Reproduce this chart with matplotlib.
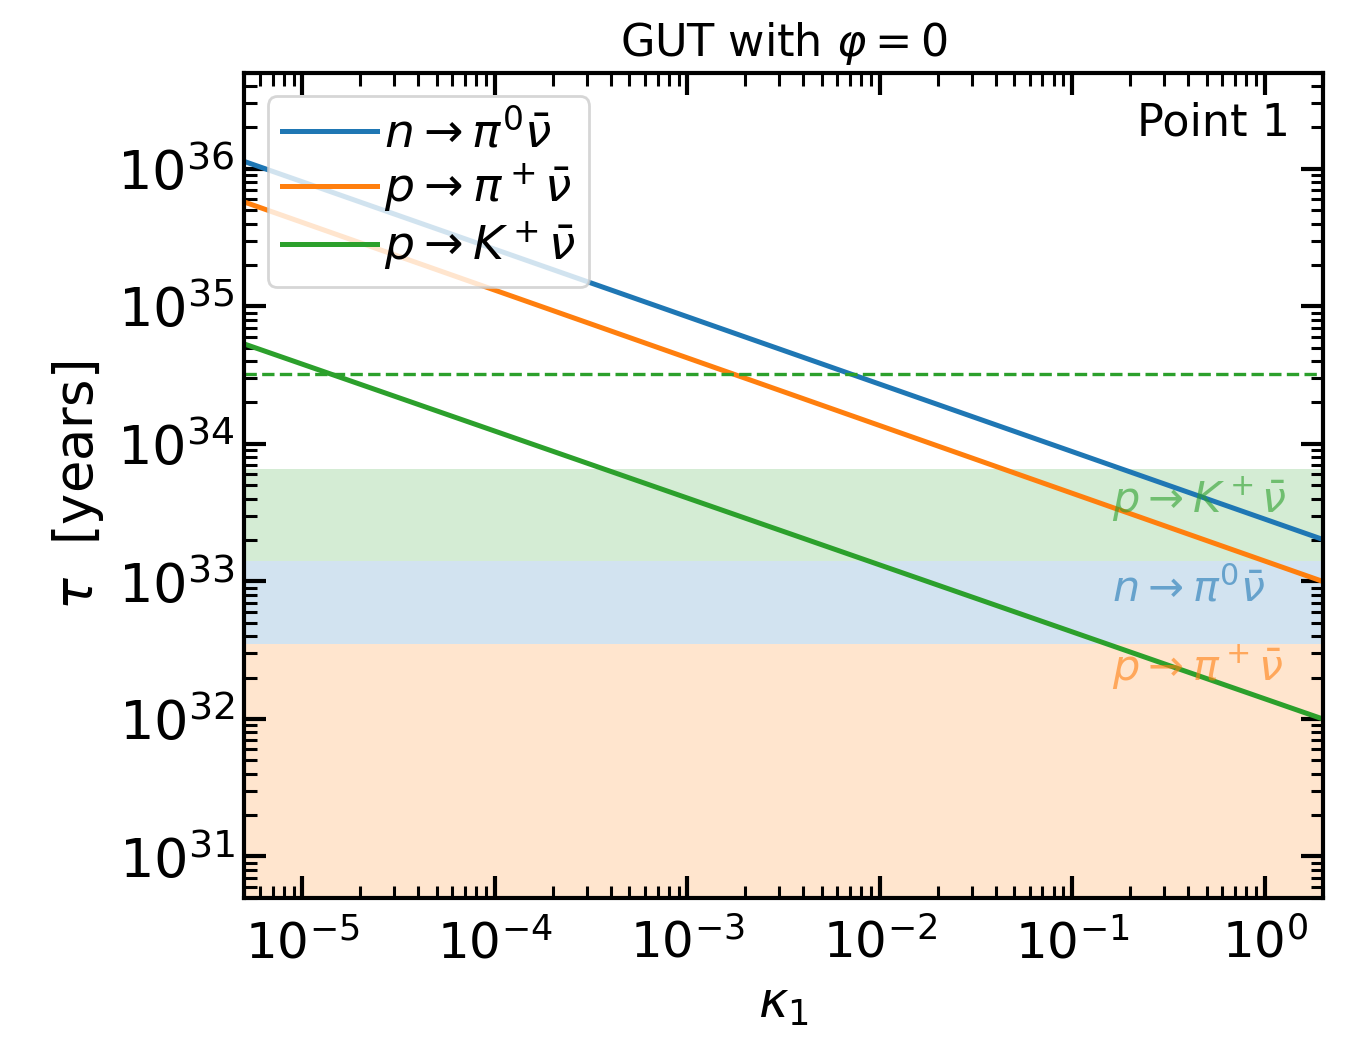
import matplotlib
matplotlib.use("Agg")
import matplotlib.pyplot as plt

# line end points (tau in years vs kappa_1)
kappa = [5e-6, 2.0]
tau_n_pi0 = [1.13e36, 2.02e33]
tau_p_pip = [5.73e35, 1.0e33]
tau_p_K = [5.32e34, 1.0e32]

labels = [r"$n\to\pi^0\bar{\nu}$", r"$p\to\pi^+\bar{\nu}$", r"$p\to K^+\bar{\nu}$"]

# experimental limits (years)
lim_p_pip = 3.5e32
lim_n_pi0 = 1.4e33
lim_p_K = 6.6e33
hyperk_p_K = 3.2e34

xlims = (5e-6, 2.0)
ylims = (5e30, 5e36)

fig = plt.figure(figsize=(6.79, 5.19), dpi=200)
ax = fig.add_axes([0.18, 0.135, 0.794, 0.795])

ax.plot(kappa, tau_n_pi0, color="C0", lw=1.8, label=labels[0])
ax.plot(kappa, tau_p_pip, color="C1", lw=1.8, label=labels[1])
ax.plot(kappa, tau_p_K, color="C2", lw=1.8, label=labels[2])

ax.axhspan(ylims[0], lim_p_pip, color="C1", alpha=0.2, lw=0)
ax.axhspan(lim_p_pip, lim_n_pi0, color="C0", alpha=0.2, lw=0)
ax.axhspan(lim_n_pi0, lim_p_K, color="C2", alpha=0.2, lw=0)
ax.axhline(hyperk_p_K, color="C2", ls="--", lw=1.2)

ax.text(0.16, 3.9e33, labels[2], color="C2", alpha=0.6, fontsize=15.5, va="center")
ax.text(0.16, 8.7e32, labels[0], color="C0", alpha=0.6, fontsize=15.5, va="center")
ax.text(0.16, 2.35e32, labels[1], color="C1", alpha=0.6, fontsize=15.5, va="center")

ax.set_xscale("log")
ax.set_yscale("log")
ax.set_xlim(*xlims)
ax.set_ylim(*ylims)

ax.tick_params(which="both", direction="in", top=True, right=True)
ax.tick_params(axis="x", labelsize=18, pad=7.5)
ax.tick_params(axis="y", labelsize=19.5)
ax.tick_params(which="major", length=8, width=1.5)
ax.tick_params(which="minor", length=4.5, width=1.1)
for s in ax.spines.values():
    s.set_linewidth(1.5)

ax.set_xlabel(r"$\kappa_1$", fontsize=18)
ax.set_ylabel(r"$\tau$  [years]", fontsize=19)
ax.set_title(r"GUT with $\varphi = 0$", fontsize=16)

ax.text(0.97, 0.965, "Point 1", transform=ax.transAxes, ha="right", va="top", fontsize=16)
ax.legend(loc="upper left", fontsize=17, handlelength=2.0, labelspacing=0.1,
          borderpad=0.3, handletextpad=0.15)

fig.savefig("out.png", dpi=200)
